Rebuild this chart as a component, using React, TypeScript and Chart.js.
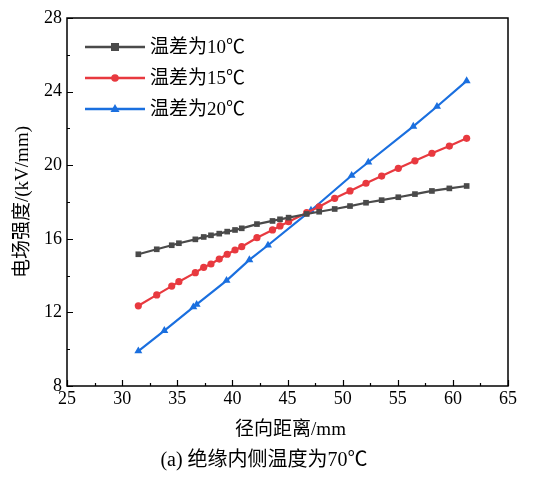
import React, { useEffect, useRef } from "react";
import { Chart, registerables } from "chart.js";

Chart.register(...registerables);

const seriesLabels = ["温差为10℃", "温差为15℃", "温差为20℃"];
const seriesColors = ["#4a4a4a", "#e8393f", "#1a6fdf"];
const seriesMarkers = ["rect", "circle", "triangle"];

const xGrayRed = [31.47, 33.14, 34.5, 35.15, 36.64, 37.4, 38.06, 38.81, 39.53, 40.24, 40.85, 42.23, 43.64, 44.32, 45.1, 46.74, 47.87, 49.28, 50.67, 52.12, 53.54, 55.05, 56.56, 58.1, 59.68, 61.25];
const yGray = [15.16, 15.43, 15.65, 15.76, 15.97, 16.1, 16.19, 16.28, 16.39, 16.48, 16.57, 16.8, 16.97, 17.06, 17.15, 17.35, 17.47, 17.62, 17.78, 17.96, 18.1, 18.26, 18.43, 18.6, 18.74, 18.87];
const yRed = [12.36, 12.95, 13.43, 13.67, 14.16, 14.45, 14.63, 14.9, 15.16, 15.39, 15.57, 16.06, 16.48, 16.7, 16.93, 17.42, 17.74, 18.2, 18.6, 19.02, 19.41, 19.83, 20.24, 20.65, 21.04, 21.46];
const xBlue = [31.47, 33.83, 36.46, 36.76, 39.47, 41.54, 43.23, 47.13, 50.82, 52.33, 56.41, 58.56, 61.25];
const yBlue = [9.9, 11.01, 12.29, 12.43, 13.73, 14.85, 15.65, 17.54, 19.44, 20.16, 22.11, 23.19, 24.58];

const xMin = 25, xMax = 65, xStep = 5;
const yMin = 8, yMax = 28, yStep = 4;

const xTitle = "径向距离/mm";
const yTitle = "电场强度/(kV/mm)";
const caption = "(a) 绝缘内侧温度为70℃";

const FONT = "'Times New Roman', 'Liberation Serif', 'Noto Sans CJK SC', serif";

const toPts = (xs: number[], ys: number[]) => xs.map((x, i) => ({ x, y: ys[i] }));

export default function App() {
  const ref = useRef<HTMLCanvasElement>(null);
  useEffect(() => {
    const canvas = ref.current!;
    const decor = {
      id: "decor",
      afterDraw(chart: any) {
        const ctx = chart.ctx;
        const a = chart.chartArea;
        const xs = chart.scales.x;
        const ys = chart.scales.y;
        ctx.save();
        // frame
        ctx.strokeStyle = "#000";
        ctx.lineWidth = 1.5;
        ctx.strokeRect(a.left, a.top, a.right - a.left, a.bottom - a.top);
        // ticks
        ctx.lineWidth = 1.2;
        ctx.beginPath();
        for (let v = xMin; v <= xMax + 1e-9; v += xStep / 2) {
          const px = Math.round(xs.getPixelForValue(v)) + 0.5;
          const major = Math.abs((v - xMin) % xStep) < 1e-6;
          const len = major ? 6 : 3;
          ctx.moveTo(px, a.bottom);
          ctx.lineTo(px, a.bottom - len);
        }
        for (let v = yMin; v <= yMax + 1e-9; v += yStep / 2) {
          const py = Math.round(ys.getPixelForValue(v)) + 0.5;
          const major = Math.abs((v - yMin) % yStep) < 1e-6;
          const len = major ? 6 : 3;
          ctx.moveTo(a.left, py);
          ctx.lineTo(a.left + len, py);
        }
        ctx.stroke();
        // titles
        ctx.fillStyle = "#000";
        ctx.textAlign = "center";
        ctx.textBaseline = "middle";
        ctx.font = `19px ${FONT}`;
        ctx.fillText(xTitle, (a.left + a.right) / 2 + 3, 430);
        ctx.font = `20px ${FONT}`;
        ctx.fillText(caption, 264, 461);
        ctx.save();
        ctx.translate(23, (a.top + a.bottom) / 2);
        ctx.rotate(-Math.PI / 2);
        ctx.font = `19px ${FONT}`;
        ctx.fillText(yTitle, 0, 0);
        ctx.restore();
        // legend
        chart.data.datasets.forEach((ds: any, i: number) => {
          const y = 47 + i * 31;
          ctx.strokeStyle = ds.borderColor;
          ctx.lineWidth = 2.5;
          ctx.beginPath();
          ctx.moveTo(85, y);
          ctx.lineTo(145, y);
          ctx.stroke();
          ctx.fillStyle = ds.borderColor;
          const cx = 115;
          if (ds.pointStyle === "rect") {
            ctx.fillRect(cx - 4, y - 4, 8, 8);
          } else if (ds.pointStyle === "circle") {
            ctx.beginPath();
            ctx.arc(cx, y, 3.8, 0, Math.PI * 2);
            ctx.fill();
          } else {
            ctx.beginPath();
            ctx.moveTo(cx, y - 5);
            ctx.lineTo(cx + 4.5, y + 3);
            ctx.lineTo(cx - 4.5, y + 3);
            ctx.closePath();
            ctx.fill();
          }
          ctx.fillStyle = "#000";
          ctx.textAlign = "left";
          ctx.textBaseline = "middle";
          ctx.font = `19px ${FONT}`;
          ctx.fillText(ds.label, 150, y + 1);
        });
        ctx.restore();
      },
    };
    const datasets = [
      toPts(xGrayRed, yGray),
      toPts(xGrayRed, yRed),
      toPts(xBlue, yBlue),
    ].map((data, i) => ({
      label: seriesLabels[i],
      data,
      borderColor: seriesColors[i],
      backgroundColor: seriesColors[i],
      borderWidth: 2.2,
      pointStyle: seriesMarkers[i],
      pointRadius: i === 0 ? 4 : i === 1 ? 3.6 : 4.6,
      pointBorderWidth: 0,
      tension: 0,
    }));
    const chart = new Chart(canvas, {
      type: "line",
      data: { datasets } as any,
      plugins: [decor],
      options: {
        animation: false,
        responsive: false,
        devicePixelRatio: 1,
        layout: { padding: { top: 18, right: 28, left: 0, bottom: 0 } },
        plugins: { legend: { display: false }, tooltip: { enabled: false } },
        scales: {
          x: {
            type: "linear",
            min: xMin,
            max: xMax,
            afterFit: (s: any) => { s.height = 91; },
            border: { display: false },
            grid: { display: false, drawTicks: false },
            ticks: { stepSize: xStep, padding: 2, color: "#000", font: { family: FONT, size: 18 }, maxRotation: 0 },
          },
          y: {
            type: "linear",
            min: yMin,
            max: yMax,
            afterFit: (s: any) => { s.width = 67; },
            border: { display: false },
            grid: { display: false, drawTicks: false },
            ticks: { stepSize: yStep, padding: 5, color: "#000", font: { family: FONT, size: 18 } },
          },
        },
      } as any,
    });
    return () => chart.destroy();
  }, []);
  return (
    <div style={{ position: "fixed", left: 0, top: 0, width: 536, height: 477, background: "#fff" }}>
      <canvas ref={ref} width={536} height={477} style={{ width: 536, height: 477 }} />
    </div>
  );
}
